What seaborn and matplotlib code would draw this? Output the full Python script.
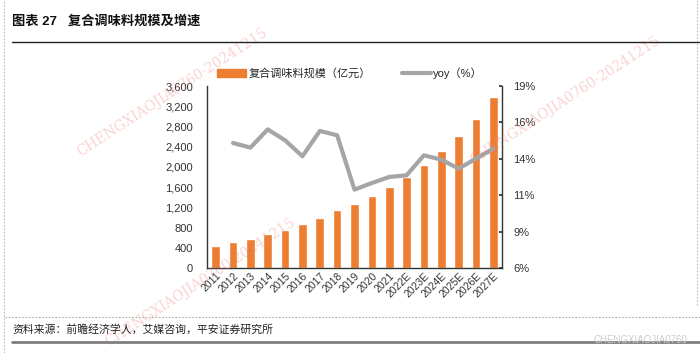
import seaborn as sns
import pandas as pd
import numpy as np
import matplotlib.pyplot as plt
from matplotlib.lines import Line2D
from matplotlib.patches import Patch
from matplotlib.ticker import FuncFormatter

years = ['2011', '2012', '2013', '2014', '2015', '2016', '2017', '2018', '2019',
         '2020', '2021', '2022E', '2023E', '2024E', '2025E', '2026E', '2027E']
scale = [435, 507, 573, 666, 758, 863, 995, 1140, 1265,
         1417, 1601, 1799, 2036, 2307, 2603, 2952, 3374]
yoy = [np.nan, 14.93, 14.6, 15.9, 15.12, 13.98, 15.79, 15.48, 11.6,
       12.07, 12.5, 12.62, 14.05, 13.74, 13.1, 13.81, 14.52]

bar_color = '#ED7D31'
line_color = '#A5A5A5'

sns.set_theme(style='white')
plt.rcParams['font.family'] = ['Liberation Sans', 'Noto Sans CJK SC', 'DejaVu Sans']

df = pd.DataFrame({'year': years, 'scale': scale, 'yoy': yoy})
df['pos'] = range(len(df))

fig = plt.figure(figsize=(7, 3.53), dpi=100)
ax = fig.add_axes([207 / 700, 1 - 268 / 353, 295 / 700, 182 / 353])

sns.barplot(data=df, x='year', y='scale', color=bar_color, width=0.5,
            saturation=1, ax=ax)
ax.set_xlim(-0.5, len(years) - 0.5)
ax.set_ylim(0, 3600)
ax.set_yticks(np.arange(0, 3601, 400))
ax.yaxis.set_major_formatter(FuncFormatter(lambda v, p: f'{int(v):,}'))
ax.set_xlabel('')
ax.set_ylabel('')
ax.tick_params(axis='y', length=0, labelsize=8, colors='#333333', pad=10)
ax.tick_params(axis='x', length=0, labelsize=7.5, colors='#333333', pad=2)
for lab in ax.get_xticklabels():
    lab.set_rotation(45)
    lab.set_ha('right')
    lab.set_rotation_mode('anchor')
for s in ['top', 'right']:
    ax.spines[s].set_visible(False)
for s in ['left', 'bottom']:
    ax.spines[s].set_color('#333333')
    ax.spines[s].set_linewidth(1)

ax2 = ax.twinx()
sns.lineplot(data=df, x='pos', y='yoy', color=line_color, linewidth=3, ax=ax2)
ax2.set_ylim(6, 19)
ax2.set_yticks(np.linspace(6, 19, 6))
ax2.yaxis.set_major_formatter(FuncFormatter(lambda v, p: f'{v:.0f}%'))
ax2.set_xlim(-0.5, len(years) - 0.5)
ax2.set_ylabel('')
ax2.tick_params(axis='y', direction='in', length=2, labelsize=8, colors='#333333', pad=8)
for s in ['top', 'left', 'bottom']:
    ax2.spines[s].set_visible(False)
ax2.spines['right'].set_color('#333333')
ax2.spines['right'].set_linewidth(1)

handles = [Patch(color=bar_color, label='复合调味料规模（亿元）'),
           Line2D([0], [0], color=line_color, lw=3, label='yoy（%）')]
fig.legend(handles=handles, loc='center', bbox_to_anchor=(0.5, 1 - 73 / 353),
           ncol=2, frameon=False, fontsize=8, columnspacing=2.8,
           handlelength=2.6, handletextpad=0.2)

# title and frame
fig.text(12 / 700, 1 - 21 / 353, '图表 27   复合调味料规模及增速', fontsize=9.5,
         fontweight='bold', va='center', ha='left', color='#111111')
fig.text(12 / 700, 1 - 329 / 353, '资料来源：前瞻经济学人，艾媒咨询，平安证券研究所',
         fontsize=7.8, style='italic', va='center', ha='left', color='#222222')
fig.add_artist(Line2D([12 / 700, 1], [1 - 42 / 353] * 2, color='#222222', lw=1))
fig.add_artist(Line2D([12 / 700, 1], [1 - 342 / 353] * 2, color='#7f7f7f', lw=2))
fig.add_artist(Line2D([5 / 700, 1], [1 - 317 / 353] * 2, color='#aaaaaa', lw=0.8,
                      ls=(0, (1.5, 1.5))))
fig.add_artist(Line2D([4 / 700] * 2, [0, 1], color='#bbbbbb', lw=0.8, ls=(0, (1.5, 1.5))))
fig.add_artist(Line2D([697 / 700] * 2, [1 - 305 / 353, 1], color='#bbbbbb', lw=0.8,
                      ls=(0, (1.5, 1.5))))

# watermarks
wm = dict(color='#f08080', fontsize=10, alpha=0.35, ha='center', va='center',
          family='DejaVu Serif', zorder=0)
fig.text(172 / 700, 1 - 92 / 353, 'CHENGXIAOJIA0760-20241215', rotation=33, **wm)
fig.text(565 / 700, 1 - 100 / 353, 'CHENGXIAOJIA0760-20241215', rotation=33, **wm)
fig.text(200 / 700, 1 - 282 / 353, 'CHENGXIAOJIA0760-20241215', rotation=33, **wm)
fig.text(640 / 700, 1 - 340 / 353, 'CHENGXIAOJIA0760', fontsize=7, color='#cccccc',
         ha='center', va='center')

fig.savefig('out.png', dpi=100)
